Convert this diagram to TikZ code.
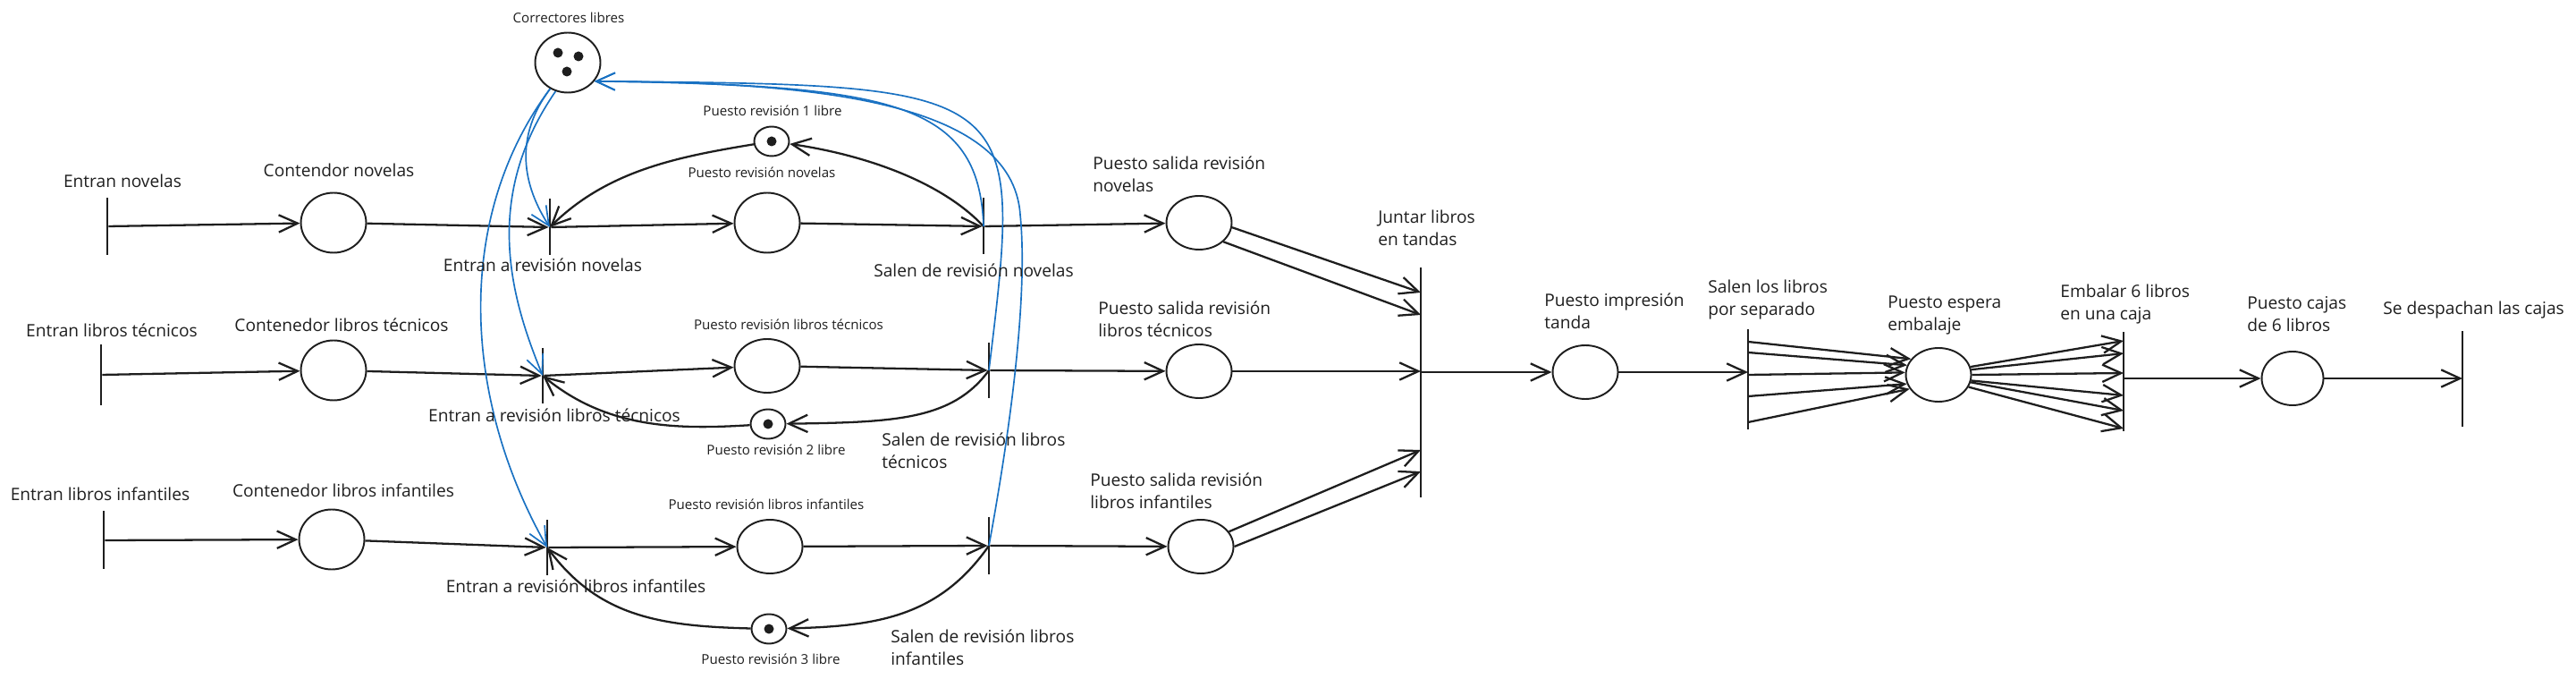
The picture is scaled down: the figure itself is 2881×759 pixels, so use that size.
\documentclass[tikz,border=0pt]{standalone}
\usepackage{fontspec}
\setmainfont{Open Sans}
\usetikzlibrary{arrows.meta,shapes.geometric,calc,positioning}
\definecolor{ink}{HTML}{1E1E1E}
\definecolor{azul}{HTML}{1971C2}

\begin{document}
\begin{tikzpicture}[x=0.02cm, y=-0.02cm,
        place/.style={ellipse, draw=ink, line width=1.1pt, minimum width=1.46cm,
                minimum height=1.2cm, inner sep=0pt},
        bigplace/.style={place, minimum height=1.34cm},
        freeplace/.style={place, minimum width=0.78cm, minimum height=0.66cm},
        token/.style={circle, fill=ink, minimum size=0.22cm, inner sep=0pt},
        trans/.style={rectangle, fill=ink, inner sep=0pt, minimum width=0.04cm,
                minimum height=#1*0.02cm},
        trans/.default=64,
        arc/.style={draw=ink, line width=1.3pt, -{Straight Barb[length=12pt, width=11pt]}},
        carc/.style={draw=azul, line width=0.95pt, -{Straight Barb[length=12pt, width=11pt]}},
        lbl/.style={font=\fontsize{10.9}{14.2}\selectfont, text=ink, inner sep=0pt},
        lbls/.style={lbl, font=\fontsize{8.6}{11}\selectfont},
        lbl2/.style={lbl, align=left, anchor=west}]

        \useasboundingbox (0,0) rectangle (2881,759);

        %-- Lugares --
        \node[bigplace] (cl)  at (635,70)  {};
        \node[token] (tk1) at (624,59) {};
        \node[token] (tk2) at (647,63) {};
        \node[token] (tk3) at (634,80) {};

        \node[bigplace] (cn)  at (373,249) {};
        \node[bigplace] (ct)  at (373,414) {};
        \node[bigplace] (ci)  at (371,603) {};
        \node[bigplace] (prn) at (858,249) {};
        \node[place]    (prt) at (858,409) {};
        \node[place]    (pri) at (861,611) {};
        \node[freeplace] (p1) at (863,158) {};
        \node[freeplace] (p2) at (859,474) {};
        \node[freeplace] (p3) at (860,703) {};
        \node[token] (tk4) at (p1) {};
        \node[token] (tk5) at (p2) {};
        \node[token] (tk6) at (p3) {};
        \node[place] (psn) at (1341,249) {};
        \node[place] (pst) at (1341,415) {};
        \node[place] (psi) at (1343,611) {};
        \node[place] (pim) at (1773,416) {};
        \node[place] (pes) at (2168,419) {};
        \node[place, minimum width=1.38cm] (pcj) at (2564,423) {};

        %-- Transiciones --
        \node[trans=64]  (en)  at (120,253)  {};
        \node[trans=68]  (et)  at (113,419)  {};
        \node[trans=65]  (ei)  at (116,604)  {};
        \node[trans=63]  (ern) at (615,254)  {};
        \node[trans=62]  (ert) at (607,420)  {};
        \node[trans=62]  (eri) at (612,612)  {};
        \node[trans=63]  (srn) at (1100,253) {};
        \node[trans=62]  (srt) at (1106,414) {};
        \node[trans=64]  (sri) at (1106,610) {};
        \node[trans=257] (jt)  at (1589,428) {};
        \node[trans=112] (sls) at (1955,424) {};
        \node[trans=111] (emb) at (2375,427) {};
        \node[trans=107] (dsp) at (2754,424) {};

        %-- Filas de entrada y revisión --
        \draw[arc] (en) -- (cn);
        \draw[arc] (cn) -- (ern);
        \draw[arc] (ern) -- (prn);
        \draw[arc] (prn) -- (srn);
        \draw[arc] (srn) -- (psn);
        \draw[arc] (et) -- (ct);
        \draw[arc] (ct) -- (ert);
        \draw[arc] (ert) -- (prt);
        \draw[arc] (prt) -- (srt);
        \draw[arc] (srt) -- (pst);
        \draw[arc] (ei) -- (ci);
        \draw[arc] (ci) -- (eri);
        \draw[arc] (eri) -- (pri);
        \draw[arc] (pri) -- (sri);
        \draw[arc] (sri) -- (psi);

        %-- Puestos de revisión libres --
        \draw[arc] (srn.center) .. controls (1050,200) and (960,172) .. (p1);
        \draw[arc] (p1) .. controls (760,175) and (680,190) .. (ern.center);
        \draw[arc] (srt.center) .. controls (1065,470) and (1000,472) .. (p2);
        \draw[arc] (p2) .. controls (760,480) and (680,480) .. (ert.center);
        \draw[arc] (sri.center) .. controls (1050,690) and (980,700) .. (p3);
        \draw[arc] (p3) .. controls (740,700) and (670,690) .. (eri.center);

        %-- Correctores (azul) --
        \draw[carc] (cl.-124) .. controls (570,160) and (590,215) .. (ern.center);
        \draw[carc] (cl.-113) .. controls (540,220) and (570,330) .. (ert.center);
        \draw[carc] (cl.-124) .. controls (510,240) and (515,440) .. (eri.center);
        \draw[carc] (srn.center) .. controls (1095,115) and (1000,95) .. (cl.-35);
        \draw[carc] (srt.center) .. controls (1145,95) .. (cl.-35);
        \draw[carc] (sri.center) .. controls (1130,480) and (1150,330) .. (1141,240)
        .. controls (1132,110) and (900,92) .. (cl.-35);

        %-- Juntar en tandas --
        \draw[arc] (psn.-8)  -- ($(jt)+(0,-101)$);
        \draw[arc] (psn.-38) -- ($(jt)+(0,-76)$);
        \draw[arc] (pst) -- (pst -| jt);
        \draw[arc] (psi.28) -- ($(jt)+(0,75)$);
        \draw[arc] (psi.0)  -- ($(jt)+(0,99)$);
        \draw[arc] (pim -| jt) -- (pim);
        \draw[arc] (pim) -- (pim -| sls);

        %-- Libros por separado y embalaje --
        \foreach \dy/\a in {-42/150, -30/163, -5/176, 19/196, 48/206} {
                \draw[arc] ($(sls)+(0,\dy)$) -- (pes.\a);
            }
        \foreach \a/\dy in {14/-46, 9/-32, 0/-10, -10/15, -13/32, -22/52} {
                \draw[arc] (pes.\a) -- ($(emb)+(0,\dy)$);
            }
        \draw[arc] (pcj -| emb) -- (pcj);
        \draw[arc] (pcj) -- (pcj -| dsp);

        %-- Etiquetas --
        \node[lbls] (lcl)  at (636,20)  {Correctores libres};
        \node[lbl]  (len)  at (137,202) {Entran novelas};
        \node[lbl]  (lcn)  at (379,190) {Contendor novelas};
        \node[lbl]  (lern) at (607,296) {Entran a revisión novelas};
        \node[lbls] (lp1)  at (864,124) {Puesto revisión 1 libre};
        \node[lbls] (lprn) at (852,193) {Puesto revisión novelas};
        \node[lbl]  (lsrn) at (1089,302) {Salen de revisión novelas};
        \node[lbl2] (lpsn) at (1222,195) {Puesto salida revisión\\novelas};
        \node[lbl2] (ljt)  at (1541,255) {Juntar libros\\en tandas};

        \node[lbl]  (let)  at (125,369) {Entran libros técnicos};
        \node[lbl]  (lct)  at (382,363) {Contenedor libros técnicos};
        \node[lbl]  (lert) at (620,464) {Entran a revisión libros técnicos};
        \node[lbls] (lprt) at (882,363) {Puesto revisión libros técnicos};
        \node[lbls] (lp2)  at (868,503) {Puesto revisión 2 libre};
        \node[lbl2] (lsrt) at (986,504) {Salen de revisión libros\\técnicos};
        \node[lbl2] (lpst) at (1228,357) {Puesto salida revisión\\libros técnicos};

        \node[lbl]  (lei)  at (112,552) {Entran libros infantiles};
        \node[lbl]  (lci)  at (384,548) {Contenedor libros infantiles};
        \node[lbl]  (leri) at (644,655) {Entran a revisión libros infantiles};
        \node[lbls] (lpri) at (857,564) {Puesto revisión libros infantiles};
        \node[lbls] (lp3)  at (862,737) {Puesto revisión 3 libre};
        \node[lbl2] (lsri) at (996,724) {Salen de revisión libros\\infantiles};
        \node[lbl2] (lpsi) at (1219,549) {Puesto salida revisión\\libros infantiles};

        \node[lbl2] (lpim) at (1727,348) {Puesto impresión\\tanda};
        \node[lbl2] (lsls) at (1910,335) {Salen los libros\\por separado};
        \node[lbl2] (lpes) at (2111,352) {Puesto espera\\embalaje};
        \node[lbl2] (lemb) at (2304,340) {Embalar 6 libros\\en una caja};
        \node[lbl2] (lpcj) at (2513,351) {Puesto cajas\\de 6 libros};
        \node[lbl, anchor=west] (ldsp) at (2665,347) {Se despachan las cajas};

    \end{tikzpicture}
\end{document}
